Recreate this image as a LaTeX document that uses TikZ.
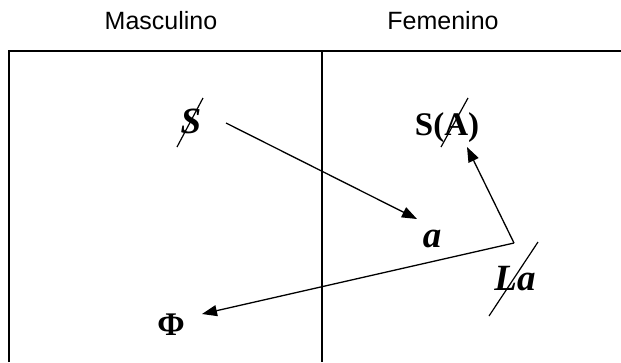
\documentclass[tikz,border=0pt]{standalone}
\usepackage{fontspec}
\setmainfont{Liberation Serif}
\newfontfamily\headfont{Liberation Sans}
\usetikzlibrary{arrows.meta}
\begin{document}
\begin{tikzpicture}[x=1pt,y=-1pt,
  frame/.style={line width=1.5pt},
  conn/.style={line width=1.3pt,-{Triangle[length=15pt,width=11pt]}},
  strike/.style={line width=1.2pt},
  head/.style={font=\headfont\fontsize{25}{30}\selectfont, inner sep=0pt, anchor=base},
  symit/.style={font=\bfseries\itshape\fontsize{37}{42}\selectfont, inner sep=0pt, anchor=base},
  symup/.style={font=\bfseries\fontsize{33}{38}\selectfont, inner sep=0pt, anchor=base}]
\useasboundingbox (0,0) rectangle (621,362);
% headings
\node[head] (masc) at (161,29) {Masculino};
\node[head] (fem) at (443,29) {Femenino};
% table frame (cut off at right and bottom)
\draw[frame] (9,362) -- (9,51) -- (621,51);
\draw[frame] (322,51) -- (322,362);
% symbols
\node[symit] (S) at (191,133) {S};
\node[symup] (SA) at (447,135) {S(A)};
\node[symit] (a) at (432,247) {a};
\node[symit] (La) at (515,290) {La};
\node[symup] (Phi) at (171,335) {Φ};
% strike-through bars
\draw[strike] (177,147) -- (203,98);
\draw[strike] (441,147) -- (468,98);
\draw[strike] (489,316) -- (538,242);
% connectors
\coordinate (s1) at (226,123);
\coordinate (t1) at (417,219);
\coordinate (corner) at (514,243);
\coordinate (t2) at (202,314);
\coordinate (t3) at (467,147);
\draw[conn] (s1) -- (t1);
\draw[conn] (corner) -- (t2);
\draw[conn] (corner) -- (t3);
\end{tikzpicture}
\end{document}
